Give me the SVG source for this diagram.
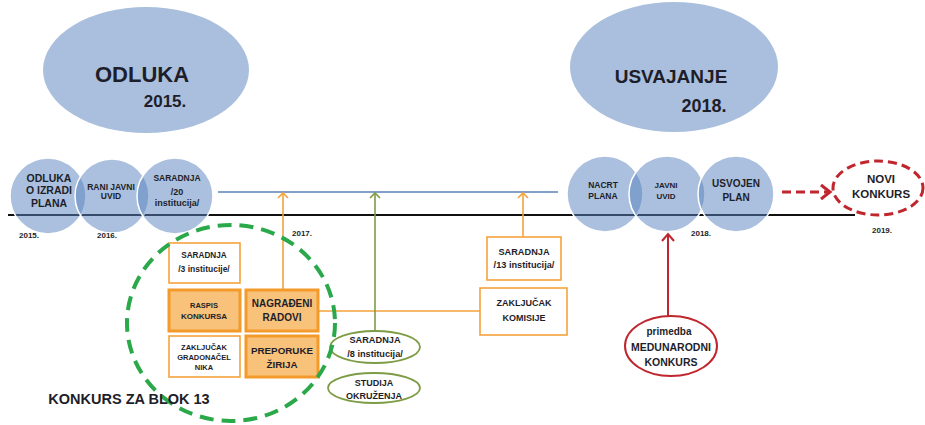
<svg xmlns="http://www.w3.org/2000/svg" width="925" height="425" viewBox="0 0 925 425">
<style>
text{font-family:"Liberation Sans",Arial,sans-serif;font-weight:bold;fill:#1e1e2a;text-anchor:middle;dominant-baseline:central}
.big{fill:#a9bfdd}
.c{fill:#5884be;fill-opacity:0.51;stroke:#fff;stroke-width:1.5}
.bw{fill:#fff;stroke:#f5a33c;stroke-width:1.6}
.bo{fill:#f9c27a;stroke:#f39a2a;stroke-width:3}
.yr{font-size:8px}
.or{stroke:#f5a33c;stroke-width:1.6;fill:none}
.gr{stroke:#7d9c45;stroke-width:1.6;fill:none}
.el{fill:#fff;stroke:#7d9c45;stroke-width:1.8}
</style>
<g id="odluka-big"><ellipse class="big" cx="146" cy="70" rx="103" ry="63"/><text x="142" y="74" style="font-size:22px">ODLUKA</text><text x="165" y="101" style="font-size:17px">2015.</text></g>
<g id="usvajanje-big"><ellipse class="big" cx="674" cy="67" rx="104" ry="65"/><text x="671" y="76" style="font-size:19px">USVAJANJE</text><text x="704" y="106" style="font-size:18px">2018.</text></g>
<g id="timeline"><line x1="8" y1="215" x2="855" y2="215" stroke="#111" stroke-width="2"/><line x1="218" y1="192" x2="558" y2="192" stroke="#5a80b4" stroke-width="1.5"/></g>
<g id="n-odluka-izradi"><circle class="c" cx="48" cy="196" r="38"/><text x="49" y="178" style="font-size:10.5px">ODLUKA</text><text x="49" y="190" style="font-size:10.5px">O IZRADI</text><text x="49" y="203" style="font-size:10.5px">PLANA</text></g>
<g id="n-rani"><circle class="c" cx="112" cy="196" r="37"/><text x="111" y="187" style="font-size:8.5px">RANI JAVNI</text><text x="111" y="196" style="font-size:8.5px">UVID</text></g>
<g id="n-saradnja20"><circle class="c" cx="175" cy="196" r="38"/><text x="177" y="178" style="font-size:8.5px">SARADNJA</text><text x="177" y="192" style="font-size:9px">/20</text><text x="177" y="203" style="font-size:9px">institucija/</text></g>
<g id="n-nacrt"><circle class="c" cx="605" cy="194" r="38"/><text x="603" y="185" style="font-size:8.5px">NACRT</text><text x="603" y="196" style="font-size:8.5px">PLANA</text></g>
<g id="n-javni"><circle class="c" cx="667" cy="194" r="38"/><text x="666" y="185" style="font-size:8px">JAVNI</text><text x="666" y="196" style="font-size:8px">UVID</text></g>
<g id="n-usvojen"><circle class="c" cx="736" cy="194" r="38"/><text x="736" y="183" style="font-size:10px">USVOJEN</text><text x="736" y="197" style="font-size:10px">PLAN</text></g>
<g id="years"><text class="yr" x="29" y="235">2015.</text><text class="yr" x="107" y="235">2016.</text><text class="yr" x="302" y="233">2017.</text><text class="yr" x="701" y="233">2018.</text><text class="yr" x="882" y="230">2019.</text></g>
<g id="connectors">
<line class="or" x1="318" y1="311" x2="480" y2="311"/>
<line class="or" x1="283" y1="289" x2="283" y2="193"/>
<path class="or" d="M278,198 L283,193 L288,198"/>
<line class="gr" x1="375" y1="331" x2="375" y2="193"/>
<path class="gr" d="M370,198 L375,193 L380,198"/>
<line class="or" x1="523" y1="237" x2="523" y2="193"/>
<path class="or" d="M518,198 L523,193 L528,198"/>
<line x1="668" y1="316" x2="668" y2="235" stroke="#c0262d" stroke-width="2"/>
<path d="M662,241 L668,234 L674,241" fill="none" stroke="#c0262d" stroke-width="2"/>
<line x1="782" y1="192" x2="828" y2="192" stroke="#c0262d" stroke-width="3" stroke-dasharray="9,5"/>
<path d="M821,185 L830,192 L821,199" fill="none" stroke="#c0262d" stroke-width="3"/>
</g>
<g id="n-saradnja3"><rect class="bw" x="169" y="243" width="71" height="40"/><text x="204" y="255" style="font-size:8.2px">SARADNJA</text><text x="204" y="269" style="font-size:8.5px">/3 institucije/</text></g>
<g id="n-raspis"><rect class="bo" x="169" y="290" width="71" height="41"/><text x="204" y="305" style="font-size:7.5px">RASPIS</text><text x="204" y="316" style="font-size:8px">KONKURSA</text></g>
<g id="n-nagradjeni"><rect class="bo" x="246" y="290" width="72" height="41"/><text x="282" y="303" style="font-size:10px">NAGRAĐENI</text><text x="282" y="317" style="font-size:10px">RADOVI</text></g>
<g id="n-zakljucak-grad"><rect class="bw" x="169" y="336" width="71" height="41"/><text x="204" y="347" style="font-size:7.5px">ZAKLJUČAK</text><text x="204" y="357" style="font-size:7.5px">GRADONAČEL</text><text x="204" y="367" style="font-size:7.5px">NIKA</text></g>
<g id="n-preporuke"><rect class="bo" x="246" y="336" width="72" height="41"/><text x="282" y="350" style="font-size:9.8px">PREPORUKE</text><text x="282" y="364" style="font-size:9.8px">ŽIRIJA</text></g>
<g id="n-saradnja13"><rect class="bw" x="487" y="237" width="74" height="43" stroke-width="2"/><text x="524" y="252" style="font-size:9.2px">SARADNJA</text><text x="524" y="265" style="font-size:9.2px">/13 institucija/</text></g>
<g id="n-zakljucak-kom"><rect class="bw" x="480" y="288" width="87" height="47" stroke-width="2"/><text x="524" y="303" style="font-size:9px">ZAKLJUČAK</text><text x="524" y="318" style="font-size:9px">KOMISIJE</text></g>
<g id="n-saradnja8"><ellipse class="el" cx="375" cy="347" rx="45" ry="16"/><text x="375" y="340" style="font-size:9.2px">SARADNJA</text><text x="375" y="354" style="font-size:9.2px">/8 institucija/</text></g>
<g id="n-studija"><ellipse class="el" cx="374" cy="388" rx="46" ry="15"/><text x="374" y="383" style="font-size:9px">STUDIJA</text><text x="374" y="396" style="font-size:9px">OKRUŽENJA</text></g>
<g id="n-konkurs-blok"><ellipse cx="231" cy="323" rx="104" ry="98" fill="none" stroke="#2aa84a" stroke-width="4" stroke-dasharray="14,8"/><text x="129" y="399" style="font-size:14.5px">KONKURS ZA BLOK 13</text></g>
<g id="n-primedba"><ellipse cx="671" cy="346" rx="46" ry="30" fill="#fff" stroke="#c0262d" stroke-width="2"/><text x="669" y="331" style="font-size:10px">primedba</text><text x="671" y="347" style="font-size:10.5px">MEDUNARODNI</text><text x="671" y="362" style="font-size:10.5px">KONKURS</text></g>
<g id="n-novi"><ellipse cx="878" cy="188" rx="45" ry="27" fill="#fff" stroke="#c0262d" stroke-width="3" stroke-dasharray="9,5"/><text x="881" y="179" style="font-size:11.5px">NOVI</text><text x="881" y="194" style="font-size:11.5px">KONKURS</text></g>
</svg>
